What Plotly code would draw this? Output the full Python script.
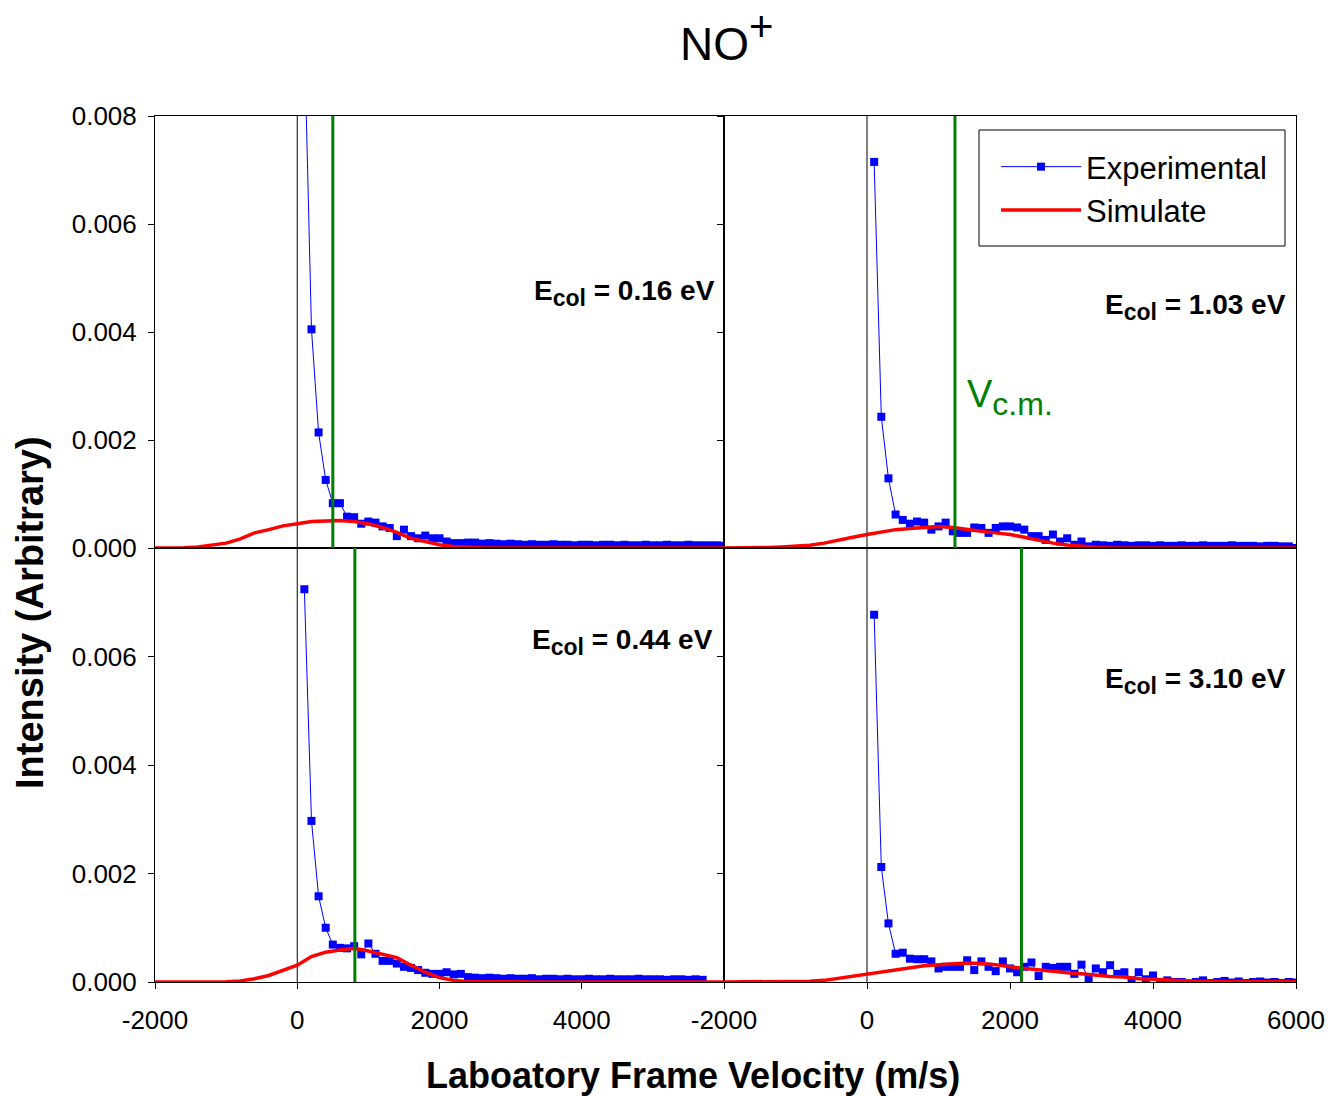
import plotly.graph_objects as go

SCALE = 1e-3  # values below are in units of 1e-3

# Experimental velocity grid (m/s)
exp_v = list(range(100, 6100, 100))
exp_v_044 = list(range(100, 5800, 100))

exp_016 = [9.5, 4.05, 2.14, 1.26, 0.83, 0.83, 0.58, 0.57, 0.45, 0.49,
           0.47, 0.40, 0.37, 0.22, 0.34, 0.22, 0.18, 0.23, 0.18, 0.18,
           0.12, 0.09, 0.09, 0.10, 0.10, 0.08, 0.09, 0.08, 0.07, 0.08,
           0.07, 0.06, 0.07, 0.06, 0.06, 0.07, 0.06, 0.06, 0.05, 0.06,
           0.06, 0.05, 0.06, 0.06, 0.05, 0.06, 0.05, 0.05, 0.06, 0.05,
           0.05, 0.06, 0.05, 0.05, 0.06, 0.05, 0.05, 0.05, 0.05, 0.04]

exp_103 = [7.15, 2.43, 1.29, 0.62, 0.52, 0.45, 0.49, 0.47, 0.34, 0.40,
           0.47, 0.31, 0.28, 0.28, 0.38, 0.37, 0.28, 0.37, 0.40, 0.40,
           0.38, 0.34, 0.22, 0.22, 0.15, 0.25, 0.12, 0.18, 0.06, 0.12,
           0.03, 0.06, 0.05, 0.04, 0.06, 0.05, 0.04, 0.05, 0.05, 0.04,
           0.05, 0.04, 0.04, 0.05, 0.04, 0.04, 0.05, 0.04, 0.04, 0.04,
           0.05, 0.04, 0.04, 0.04, 0.03, 0.04, 0.04, 0.03, 0.03, 0.00]

exp_044 = [7.24, 2.97, 1.58, 1.00, 0.69, 0.63, 0.62, 0.66, 0.51, 0.71,
           0.52, 0.39, 0.39, 0.34, 0.28, 0.26, 0.22, 0.17, 0.15, 0.15,
           0.18, 0.14, 0.15, 0.09, 0.08, 0.07, 0.08, 0.07, 0.06, 0.07,
           0.06, 0.06, 0.07, 0.05, 0.06, 0.06, 0.05, 0.06, 0.05, 0.05,
           0.06, 0.05, 0.05, 0.06, 0.05, 0.05, 0.05, 0.06, 0.05, 0.05,
           0.05, 0.04, 0.05, 0.05, 0.04, 0.05, 0.04]

exp_310 = [6.77, 2.12, 1.08, 0.52, 0.54, 0.43, 0.42, 0.42, 0.38, 0.25,
           0.28, 0.28, 0.28, 0.40, 0.22, 0.38, 0.28, 0.20, 0.38, 0.25,
           0.18, 0.28, 0.36, 0.11, 0.28, 0.26, 0.28, 0.28, 0.15, 0.32,
           0.07, 0.25, 0.18, 0.31, 0.15, 0.18, 0.03, 0.18, 0.05, 0.12,
           0.00, 0.03, 0.00, 0.00, -0.03, 0.00, 0.03, -0.02, 0.00, 0.02,
           -0.01, 0.01, -0.02, 0.00, 0.01, -0.01, 0.00, -0.02, 0.00, -0.01]

# Simulated curves on grid -2000..6000 step 200
sim_v = list(range(-2000, 6200, 200))

sim_016 = [0, 0, 0.005, 0.02, 0.06, 0.09, 0.17, 0.28, 0.34, 0.41,
           0.45, 0.49, 0.50, 0.51, 0.49, 0.45, 0.38, 0.29, 0.18, 0.12,
           0.06, 0.03, 0.01, 0.005, 0, 0, 0, 0, 0, 0,
           0, 0, 0, 0, 0, 0, 0, 0, 0, 0, 0]

sim_103 = [0, 0, 0.005, 0.01, 0.02, 0.03, 0.05, 0.09, 0.15, 0.20,
           0.25, 0.29, 0.34, 0.36, 0.38, 0.40, 0.38, 0.34, 0.31, 0.28,
           0.25, 0.20, 0.14, 0.09, 0.055, 0.03, 0.015, 0.005, 0, 0,
           0, 0, 0, 0, 0, 0, 0, 0, 0, 0, 0]

sim_044 = [0, 0, 0, 0, 0, 0.005, 0.02, 0.06, 0.12, 0.22,
           0.31, 0.47, 0.55, 0.59, 0.62, 0.57, 0.51, 0.45, 0.31, 0.18,
           0.08, 0.03, 0.01, 0.005, 0, 0, 0, 0, 0, 0,
           0, 0, 0, 0, 0, 0, 0, 0, 0, 0, 0]

sim_310 = [0, 0, 0, 0, 0, 0.005, 0.015, 0.03, 0.07, 0.10,
           0.14, 0.18, 0.23, 0.26, 0.30, 0.32, 0.34, 0.35, 0.34, 0.32,
           0.28, 0.25, 0.22, 0.20, 0.17, 0.15, 0.12, 0.10, 0.09, 0.06,
           0.05, 0.035, 0.025, 0.015, 0.01, 0.005, 0.005, 0.005, 0.005, 0.005, 0.005]

vcm = [500, 1230, 810, 2160]
energies = ["0.16", "1.03", "0.44", "3.10"]

y_ticks_top = [0, 0.002, 0.004, 0.006, 0.008]
y_ticks_bottom = [0, 0.002, 0.004, 0.006]
x_ticks_left = [-2000, 0, 2000, 4000]
x_ticks_right = [-2000, 0, 2000, 4000, 6000]

W, H = 1328, 1096
FONT = "Arial, Liberation Sans, sans-serif"

def px(xp):
    return xp / W

def py(yp):
    return 1 - yp / H

panels = [
    dict(xv=exp_v, ye=exp_016, ys=sim_016, xd=[px(155), px(724)], yd=[py(548), py(116)]),
    dict(xv=exp_v, ye=exp_103, ys=sim_103, xd=[px(724), px(1296)], yd=[py(548), py(116)]),
    dict(xv=exp_v_044, ye=exp_044, ys=sim_044, xd=[px(155), px(724)], yd=[py(982), py(548)]),
    dict(xv=exp_v, ye=exp_310, ys=sim_310, xd=[px(724), px(1296)], yd=[py(982), py(548)]),
]

fig = go.Figure()
layout = {}
shapes = []
for i, p in enumerate(panels):
    n = "" if i == 0 else str(i + 1)
    xa, ya = "x" + n, "y" + n
    fig.add_trace(go.Scatter(
        x=p["xv"], y=[v * SCALE for v in p["ye"]], xaxis=xa, yaxis=ya,
        mode="lines+markers", name="Experimental", showlegend=(i == 0),
        line=dict(color="#0000FF", width=1),
        marker=dict(symbol="square", size=8, color="#0000FF"),
    ))
    fig.add_trace(go.Scatter(
        x=sim_v, y=[v * SCALE for v in p["ys"]], xaxis=xa, yaxis=ya,
        mode="lines", name="Simulate", showlegend=(i == 0),
        line=dict(color="#FF0000", width=3.5),
    ))
    bottom = i >= 2
    left = i % 2 == 0
    xt = (x_ticks_left if left else x_ticks_right) if bottom else []
    layout["xaxis" + n] = dict(
        domain=p["xd"], anchor=ya, range=[-2000, 6000], automargin=False,
        showline=True, mirror=True, linecolor="black", linewidth=1,
        showgrid=False, zeroline=False,
        ticks="outside" if bottom else "", ticklen=6, tickcolor="black",
        tickvals=xt, ticktext=[str(v) for v in xt],
        showticklabels=bottom, ticklabelstandoff=9,
        tickfont=dict(family=FONT, size=26, color="black"),
    )
    layout["yaxis" + n] = dict(
        domain=p["yd"], anchor=xa, range=[0, 0.008], automargin=False,
        showline=True, mirror=True, linecolor="black", linewidth=1,
        showgrid=False, zeroline=False,
        ticks="outside", ticklen=6, tickcolor="black",
        tickvals=y_ticks_bottom if bottom else y_ticks_top,
        tickformat=".3f", showticklabels=left, ticklabelstandoff=6,
        tickfont=dict(family=FONT, size=26, color="black"),
    )
    shapes.append(dict(type="line", xref=xa, yref=ya + " domain", x0=0, x1=0, y0=0, y1=1,
                       line=dict(color="black", width=1), layer="below"))
    shapes.append(dict(type="line", xref=xa, yref=ya + " domain", x0=vcm[i], x1=vcm[i], y0=0, y1=1,
                       line=dict(color="#008000", width=3), layer="above"))

# legend frame
shapes.append(dict(type="rect", xref="paper", yref="paper",
                   x0=px(979), x1=px(1285), y0=py(246), y1=py(130),
                   line=dict(color="black", width=1), fillcolor="white", layer="above"))

ann_pos = [(717, 293), (1288, 307), (715, 642), (1288, 681)]
annotations = []
for (xp, yp), e in zip(ann_pos, energies):
    annotations.append(dict(
        xref="paper", yref="paper", x=px(xp), y=py(yp), xanchor="right", yanchor="middle",
        text="<b>E<sub><span style='font-size:23px'>col</span></sub> = " + e + " eV</b>",
        showarrow=False,
        font=dict(family=FONT, size=28, color="black"),
    ))
annotations.append(dict(
    xref="paper", yref="paper", x=px(965), y=py(398), xanchor="left", yanchor="middle",
    text="V<sub><span style='font-size:32px'>c.m.</span></sub>", showarrow=False,
    font=dict(family=FONT, size=38, color="#008000"),
))
annotations.append(dict(
    xref="paper", yref="paper", x=px(727), y=py(36), xanchor="center", yanchor="middle",
    text="NO<sup><span style='font-size:42px'>+</span></sup>", showarrow=False,
    font=dict(family=FONT, size=46, color="black"),
))
annotations.append(dict(
    xref="paper", yref="paper", x=px(693), y=py(1075), xanchor="center", yanchor="middle",
    text="<b>Laboatory Frame Velocity (m/s)</b>", showarrow=False,
    font=dict(family=FONT, size=36, color="black"),
))
annotations.append(dict(
    xref="paper", yref="paper", x=px(30), y=py(613), xanchor="center", yanchor="middle",
    text="<b>Intensity (Arbitrary)</b>", showarrow=False, textangle=-90,
    font=dict(family=FONT, size=38, color="black"),
))

fig.update_layout(
    width=W, height=H, margin=dict(l=0, r=0, t=0, b=0, autoexpand=False),
    paper_bgcolor="white", plot_bgcolor="white",
    font=dict(family=FONT, color="black"),
    shapes=shapes, annotations=annotations,
    legend=dict(x=px(996), y=py(140), xanchor="left", yanchor="top",
                borderwidth=0, bgcolor="rgba(0,0,0,0)",
                font=dict(family=FONT, size=31, color="black"),
                itemwidth=80, tracegroupgap=0),
    **layout,
)

fig.write_html("out.html")
